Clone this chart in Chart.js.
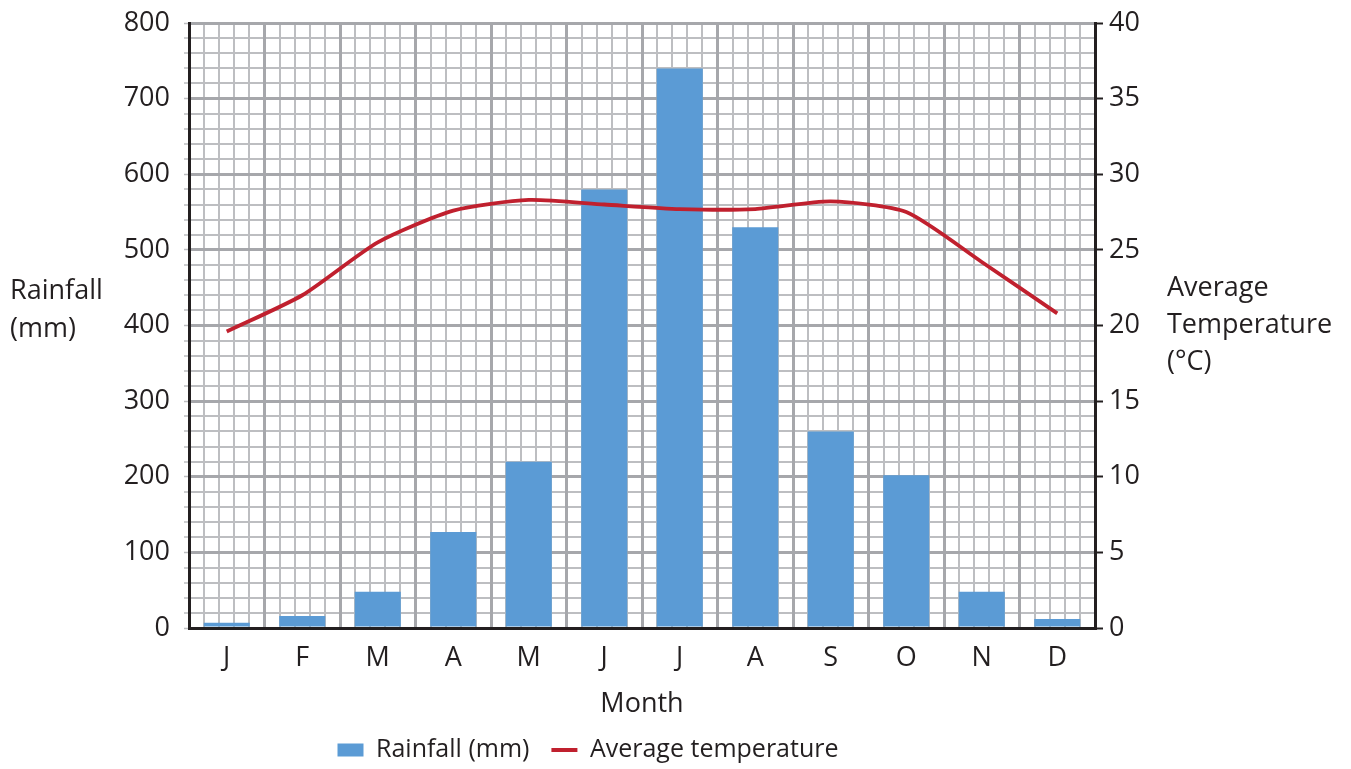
<!DOCTYPE html>
<html>
<head>
<meta charset="utf-8">
<script src="https://cdn.jsdelivr.net/npm/chart.js@4"></script>
<style>
  html, body { margin: 0; padding: 0; background: #ffffff; }
  #wrap { width: 1351px; height: 769px; position: relative; }
</style>
</head>
<body>
<div id="wrap"><canvas id="c"></canvas></div>
<script>
// ---- data ----
const months = ['J', 'F', 'M', 'A', 'M', 'J', 'J', 'A', 'S', 'O', 'N', 'D'];
const rainfall = [7, 16, 48, 127, 220, 580, 740, 530, 260, 202, 48, 12];
const temperature = [19.6, 22.0, 25.5, 27.6, 28.3, 28.0, 27.7, 27.7, 28.2, 27.5, 24.2, 20.8];
const rainfallTicks = [0, 100, 200, 300, 400, 500, 600, 700, 800];
const temperatureTicks = [0, 5, 10, 15, 20, 25, 30, 35, 40];
const leftTitle = ['Rainfall', '(mm)'];
const rightTitle = ['Average', 'Temperature', '(°C)'];
const xTitle = 'Month';
const rainLabel = 'Rainfall (mm)';
const tempLabel = 'Average temperature';

// ---- styles ----
const FONT = '"Open Sans", "Noto Sans", sans-serif';
const TEXT = '#231f20';
const MAJOR = '#a6a7ab';
const MINOR = '#bdbec1';
const NONE = 'rgba(0,0,0,0)';

const sideTitles = {
  id: 'sideTitles',
  afterDraw(chart) {
    const { ctx, scales } = chart;
    ctx.save();
    ctx.font = '27px ' + FONT;
    ctx.fillStyle = TEXT;
    ctx.textBaseline = 'middle';
    ctx.textAlign = 'left';
    const yl = scales.y.getPixelForValue(400);
    leftTitle.forEach((t, i) => ctx.fillText(t, 10, yl - 34 + i * 38));
    const yr = scales.y1.getPixelForValue(20);
    rightTitle.forEach((t, i) => ctx.fillText(t, 1167, yr - 37 + i * 37));
    ctx.restore();
  }
};

const legendShift = {
  id: 'legendShift',
  afterLayout(chart) {
    const lg = chart.legend;
    if (lg) { lg.left -= 54; lg.right -= 54; }
  }
};

const isInt = v => Math.abs(v - Math.round(v)) < 1e-6;

new Chart(document.getElementById('c'), {
  data: {
    labels: months,
    datasets: [
      {
        type: 'bar', label: rainLabel, data: rainfall, yAxisID: 'y', xAxisID: 'x',
        backgroundColor: '#5b9bd5', borderWidth: 0,
        barPercentage: 0.61, categoryPercentage: 1.0,
        pointStyle: 'rect', order: 1
      },
      {
        type: 'line', label: tempLabel, data: temperature, yAxisID: 'y1', xAxisID: 'x',
        borderColor: '#c0202e', backgroundColor: '#c0202e', borderWidth: 3.8,
        pointRadius: 0, pointHoverRadius: 0, tension: 0.22, pointStyle: 'line', order: 0
      }
    ]
  },
  options: {
    responsive: true,
    maintainAspectRatio: false,
    animation: false,
    layout: { padding: { top: 23, bottom: -3.5, left: 0, right: 0 } },
    plugins: {
      tooltip: { enabled: false },
      legend: {
        position: 'bottom',
        fullSize: false,
        reverse: true,
        labels: {
          usePointStyle: true,
          pointStyleWidth: 26,
          boxHeight: 13,
          padding: 22,
          color: TEXT,
          font: { family: FONT, size: 25 }
        }
      }
    },
    scales: {
      xm: {
        type: 'linear', position: 'top', min: 0, max: 12,
        ticks: { display: false, stepSize: 0.2, autoSkip: false },
        grid: { color: c => isInt(c.tick.value) ? NONE : MINOR, lineWidth: 2, drawTicks: false },
        border: { display: false },
        afterFit(s) { s.height = 0; }
      },
      y: {
        type: 'linear', position: 'left', min: 0, max: 800,
        ticks: {
          stepSize: 20, autoSkip: false, color: TEXT, padding: 14,
          font: { family: FONT, size: 27, lineHeight: 0.6 },
          callback: v => rainfallTicks.includes(v) ? String(v) : ''
        },
        grid: {
          color: c => c.tick.value === 0 ? NONE : (c.tick.value % 100 === 0 ? MAJOR : MINOR),
          lineWidth: c => c.tick.value % 100 === 0 ? 3 : 2,
          tickLength: 5,
          tickColor: MINOR,
          tickWidth: 1.5
        },
        border: { color: TEXT, width: 3, z: 1 },
        afterFit(s) { s.width = 189; }
      },
      x: {
        type: 'category', position: 'bottom', offset: true,
        grid: { offset: true, color: c => c.index === 0 ? NONE : MAJOR, lineWidth: 3, drawTicks: false },
        border: { color: TEXT, width: 3, z: 1 },
        ticks: { color: TEXT, padding: 14, font: { family: FONT, size: 27 } },
        title: { display: true, text: xTitle, color: TEXT, font: { family: FONT, size: 27, lineHeight: 1 }, padding: { top: 0, bottom: -2 } },
        afterFit(s) { s.height = 87.5; }
      },
      y1: {
        type: 'linear', position: 'right', min: 0, max: 40,
        ticks: {
          stepSize: 5, autoSkip: false, color: TEXT, padding: 6,
          font: { family: FONT, size: 27, lineHeight: 0.6 },
          callback: v => temperatureTicks.includes(v) ? String(v) : ''
        },
        grid: { drawOnChartArea: false, drawTicks: true, tickLength: 8, tickColor: TEXT, tickWidth: 2 },
        border: { color: TEXT, width: 3, z: 1 },
        afterFit(s) { s.width = 256; }
      }
    }
  },
  plugins: [sideTitles, legendShift]
});
</script>
</body>
</html>
